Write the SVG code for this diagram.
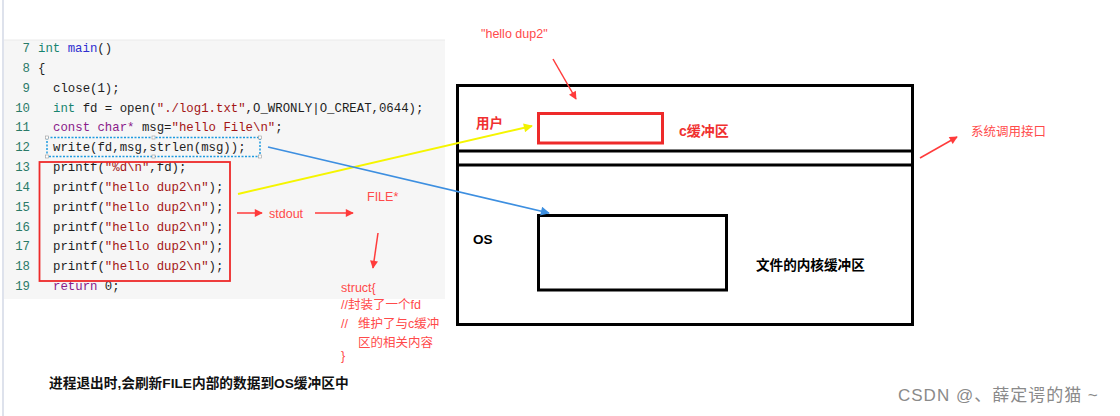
<svg xmlns="http://www.w3.org/2000/svg" width="1120" height="416" viewBox="0 0 1120 416">
<style>
.code{font-family:"Liberation Mono","DejaVu Sans Mono",monospace;font-size:12.35px;fill:#1e1e1e}
.ln{fill:#2a7a68;text-anchor:end}
.kw{fill:#17856f}
.fn{fill:#2f2fd0}
.st{fill:#a31515}
.pu{fill:#8a1c8a}
.ann{font-family:"Liberation Sans","Noto Sans CJK SC",sans-serif;font-size:12.5px;fill:#ff4a4a}
.bold{font-family:"Liberation Sans","Noto Sans CJK SC",sans-serif;font-weight:bold}
.box{fill:none;stroke:#000;stroke-width:3}
.redbox{fill:none;stroke:#ee2a2a}
</style>
<defs>
<marker id="ar" viewBox="0 0 10 10" refX="9" refY="5" markerWidth="9" markerHeight="8" markerUnits="userSpaceOnUse" orient="auto"><path d="M0,0 L10,5 L0,10 z" fill="#ff3b3b"/></marker>
<marker id="ay" viewBox="0 0 10 10" refX="9" refY="5" markerWidth="11" markerHeight="9" markerUnits="userSpaceOnUse" orient="auto"><path d="M0,0 L10,5 L0,10 z" fill="#f2f200"/></marker>
<marker id="ab" viewBox="0 0 10 10" refX="9" refY="5" markerWidth="11" markerHeight="9" markerUnits="userSpaceOnUse" orient="auto"><path d="M0,0 L10,5 L0,10 z" fill="#3d8fe0"/></marker>
</defs>
<rect width="1120" height="416" fill="#fff"/>
<line x1="3" y1="0" x2="3" y2="416" stroke="#d3d9e6" stroke-width="1.5"/>
<g id="code-panel">
<rect x="4" y="40" width="441" height="259" fill="#f6f6f6"/>
<line x1="4" y1="40" x2="445" y2="40" stroke="#eaeaea"/>
<text class="code"><tspan class="ln" x="30" y="52">7</tspan><tspan class="kw" x="38">int</tspan> <tspan class="fn">main</tspan>()</text>
<text class="code"><tspan class="ln" x="30" y="71.8">8</tspan><tspan x="38">{</tspan></text>
<text class="code"><tspan class="ln" x="30" y="91.7">9</tspan><tspan x="53">close(1);</tspan></text>
<text class="code"><tspan class="ln" x="30" y="111.5">10</tspan><tspan class="kw" x="53">int</tspan> fd = open(<tspan class="st">"./log1.txt"</tspan>,O_WRONLY|O_CREAT,0644);</text>
<text class="code"><tspan class="ln" x="30" y="131.3">11</tspan><tspan class="pu" x="53">const char*</tspan> msg=<tspan class="st">"hello File\n"</tspan>;</text>
<text class="code"><tspan class="ln" x="30" y="151.2">12</tspan><tspan x="53">write(fd,msg,strlen(msg));</tspan></text>
<text class="code"><tspan class="ln" x="30" y="171">13</tspan><tspan x="53">printf(</tspan><tspan class="st">"%d\n"</tspan>,fd);</text>
<text class="code"><tspan class="ln" x="30" y="190.8">14</tspan><tspan x="53">printf(</tspan><tspan class="st">"hello dup2\n"</tspan>);</text>
<text class="code"><tspan class="ln" x="30" y="210.6">15</tspan><tspan x="53">printf(</tspan><tspan class="st">"hello dup2\n"</tspan>);</text>
<text class="code"><tspan class="ln" x="30" y="230.5">16</tspan><tspan x="53">printf(</tspan><tspan class="st">"hello dup2\n"</tspan>);</text>
<text class="code"><tspan class="ln" x="30" y="250.3">17</tspan><tspan x="53">printf(</tspan><tspan class="st">"hello dup2\n"</tspan>);</text>
<text class="code"><tspan class="ln" x="30" y="270.1">18</tspan><tspan x="53">printf(</tspan><tspan class="st">"hello dup2\n"</tspan>);</text>
<text class="code"><tspan class="ln" x="30" y="290">19</tspan><tspan class="pu" x="53">return</tspan> 0;</text>
</g>
<g id="write-selection">
<rect x="47" y="137.5" width="213" height="19" fill="none" stroke="#1e9be0" stroke-width="1.5" stroke-dasharray="2 1.5"/>
<g fill="#fff" stroke="#999" stroke-width="0.6"><rect x="45.5" y="136" width="3" height="3"/><rect x="152" y="136" width="3" height="3"/><rect x="258.5" y="136" width="3" height="3"/><rect x="45.5" y="155" width="3" height="3"/><rect x="152" y="155" width="3" height="3"/><rect x="258.5" y="155" width="3" height="3"/></g>
</g>
<g id="printf-box"><rect class="redbox" x="39.5" y="162" width="190.5" height="119" stroke-width="1.8"/></g>
<g id="stdout-label"><text class="ann" x="269" y="218" font-size="14">stdout</text></g>
<g id="file-label"><text class="ann" x="367" y="201" font-size="12.5">FILE*</text></g>
<g id="struct-note">
<text class="ann" x="341" y="292" font-size="14">struct{</text>
<text class="ann" x="341" y="309">//封装了一个fd</text>
<text class="ann" x="341" y="328">//</text>
<text class="ann" x="358" y="328">维护了与c缓冲</text>
<text class="ann" x="358" y="346.5">区的相关内容</text>
<text class="ann" x="341" y="360" font-size="13">}</text>
</g>
<g id="process-box">
<rect class="box" x="457.5" y="85.5" width="455" height="239"/>
<line x1="457.5" y1="151" x2="912.5" y2="151" stroke="#000" stroke-width="3"/>
<line x1="457.5" y1="165" x2="912.5" y2="165" stroke="#000" stroke-width="3"/>
</g>
<g id="user-section">
<text class="bold" x="476" y="128" font-size="13.5" fill="#f03030">用户</text>
<rect class="redbox" x="538.5" y="113.5" width="124" height="29.5" stroke-width="3"/>
<text class="bold" x="679" y="136" font-size="14" fill="#f03030">c缓冲区</text>
</g>
<g id="os-section">
<text class="bold" x="473" y="243.5" font-size="13.5" fill="#000">OS</text>
<rect class="box" x="538.5" y="215.5" width="188" height="74.5"/>
<text class="bold" x="756" y="270" font-size="13.6" fill="#000">文件的内核缓冲区</text>
</g>
<g id="hello-label"><text class="ann" x="481" y="37.5" font-size="13.8">"hello dup2"</text></g>
<g id="syscall-label"><text class="ann" x="971" y="135.5" font-size="12.4">系统调用接口</text></g>
<g id="note-bottom"><text class="bold" x="49" y="388" font-size="13.7" fill="#111">进程退出时,会刷新FILE内部的数据到OS缓冲区中</text></g>
<g id="watermark"><text x="898" y="401" font-family="'Liberation Sans','Noto Sans CJK SC',sans-serif" font-size="17" letter-spacing="1" fill="#8a8a8a">CSDN @、薛定谔的猫 ~</text></g>
<g id="connectors" fill="none">
<line x1="238" y1="194" x2="532" y2="126" stroke="#f5f500" stroke-width="2" marker-end="url(#ay)"/>
<line x1="268" y1="147" x2="549" y2="213" stroke="#3d8fe0" stroke-width="1.6" marker-end="url(#ab)"/>
<line x1="237" y1="213" x2="262" y2="213" stroke="#ff3b3b" stroke-width="1.5" marker-end="url(#ar)"/>
<line x1="315" y1="213" x2="353" y2="213" stroke="#ff3b3b" stroke-width="1.5" marker-end="url(#ar)"/>
<line x1="378" y1="233" x2="373" y2="268" stroke="#ff3b3b" stroke-width="1.5" marker-end="url(#ar)"/>
<line x1="553" y1="59" x2="576" y2="99" stroke="#ff3b3b" stroke-width="1.5" marker-end="url(#ar)"/>
<line x1="920" y1="158" x2="957" y2="137" stroke="#ff3b3b" stroke-width="1.5" marker-end="url(#ar)"/>
</g>
</svg>
